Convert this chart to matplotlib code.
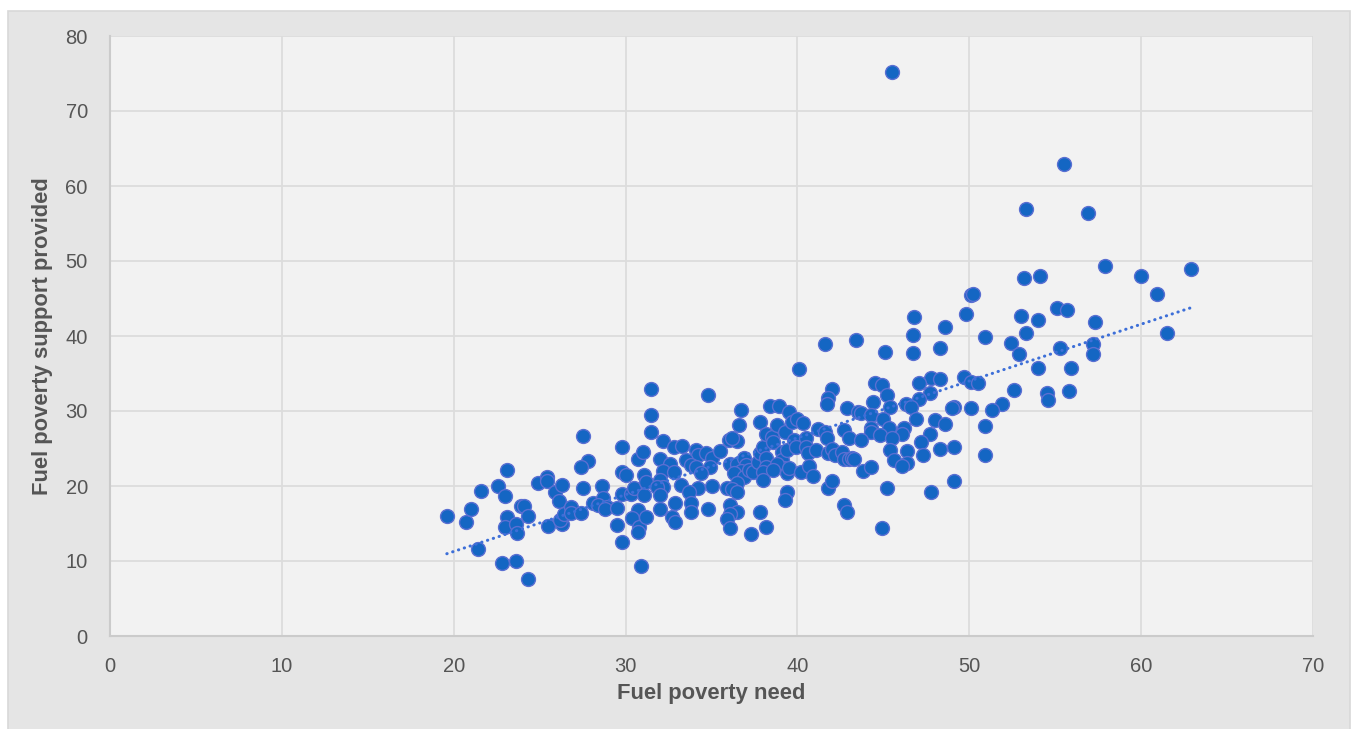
import numpy as np
import matplotlib
matplotlib.use('Agg')
from matplotlib import pyplot as plt
from matplotlib.patches import Rectangle

# fuel poverty need (x) vs support provided (y), one point per area
need = [
    19.6, 20.7, 21.0, 21.6, 21.4, 22.6, 23.0, 23.1, 22.8, 23.6, 24.3, 23.1, 23.0, 23.6,
    23.7, 23.9, 24.1, 24.3, 24.9, 25.4, 25.4, 25.5, 25.9, 26.1, 26.3, 26.3, 26.2, 26.4,
    26.8, 26.8, 27.4, 27.5, 27.8, 27.4, 27.5, 28.1, 28.6, 28.7, 28.4, 28.9, 28.8, 29.5,
    29.5, 29.8, 29.8, 29.8, 30.0, 29.8, 30.3, 30.5, 30.7, 31.0, 31.1, 30.7, 30.4, 30.8,
    30.7, 30.9, 31.1, 31.2, 31.5, 31.5, 31.5,
    34.8, 32.2, 32.0, 32.8, 33.3, 34.1, 34.2, 34.7, 35.0, 35.5, 32.6, 33.5, 33.8, 34.1,
    34.9, 34.4, 31.2, 32.2, 32.0, 32.8, 32.2, 31.8, 32.0, 33.2, 34.2, 35.0, 33.7, 32.9,
    33.8, 33.8, 32.0, 32.7, 32.9, 34.8,
    36.0, 36.5, 36.6, 36.7, 36.2, 36.1, 36.5, 36.9, 37.0, 36.7, 36.3, 36.9, 37.2, 36.5,
    35.9, 36.2, 36.5, 36.1, 36.5, 36.1, 35.9, 36.1, 37.3, 37.8, 38.2, 37.4, 37.7, 37.8,
    38.0, 38.2, 38.2, 38.0, 38.0, 37.8, 38.4, 38.9, 38.2, 38.5, 38.6, 38.8, 39.3, 39.5,
    39.7, 40.0, 40.3, 39.1, 39.1, 39.4, 39.2, 38.8, 38.6, 39.4, 39.5, 39.8, 39.9, 39.4,
    39.3, 40.2, 40.5, 40.5, 40.6, 40.7, 40.9, 41.1, 41.2, 41.6, 41.7, 41.8, 42.0, 41.8,
    42.0, 42.0, 41.8, 41.7, 42.9, 42.7, 43.0, 42.2, 42.6, 42.7, 43.0, 42.7, 42.9, 43.5,
    40.1, 41.6, 43.4,
    46.8, 46.7, 46.7, 48.6, 49.8, 48.3, 45.1, 50.9, 50.1, 53.0, 54.0, 55.1, 55.7, 53.3,
    52.4, 52.9, 55.3, 54.0, 55.9, 52.6, 54.5, 54.6, 55.8, 49.7, 50.1, 50.5, 51.9, 51.3,
    50.1, 50.9, 50.9, 49.1, 49.0, 49.1, 47.8, 48.3, 47.1, 47.7, 47.1, 44.5, 44.9, 45.2,
    44.4, 46.3, 46.6, 45.4, 43.7, 44.3, 45.0, 46.9, 45.3, 44.3, 44.3, 44.8, 46.2, 46.1,
    45.5, 43.7, 48.0, 48.6, 47.7, 47.2, 45.4, 46.4, 43.2, 43.3, 45.6, 46.4, 46.1, 47.3,
    48.3, 49.1, 43.8, 44.3, 45.2, 47.8, 44.9,
    45.5, 55.5, 53.3, 53.2, 54.1, 50.2,
    56.9, 57.9, 60.0, 62.9, 60.9, 57.3, 61.5, 57.2, 57.2,
]
support = [
    16.0, 15.2, 17.0, 19.4, 11.6, 20.0, 18.7, 22.1, 9.8, 10.0, 7.6, 15.9, 14.5, 15.0,
    13.7, 17.3, 17.3, 16.0, 20.4, 21.2, 20.7, 14.7, 19.2, 18.0, 20.2, 14.9, 15.5, 16.3,
    17.2, 16.4, 16.4, 26.7, 23.4, 22.6, 19.8, 17.8, 20.0, 18.4, 17.5, 17.2, 17.0, 17.1,
    14.8, 12.5, 25.2, 21.9, 21.5, 19.0, 19.0, 19.8, 23.6, 24.5, 18.8, 16.8, 15.7, 14.6,
    13.9, 9.4, 21.5, 15.9, 32.9, 29.5, 27.2,
    32.2, 26.0, 23.6, 25.2, 25.3, 24.8, 24.1, 24.4, 23.8, 24.7, 23.0, 23.5, 22.8, 22.6,
    22.5, 21.7, 20.6, 22.0, 20.8, 21.9, 19.9, 19.9, 18.8, 20.1, 19.7, 20.0, 19.2, 17.8,
    17.7, 16.6, 17.0, 15.9, 15.2, 17.0,
    26.2, 26.0, 28.1, 30.2, 26.4, 22.9, 22.9, 23.8, 22.8, 22.0, 21.7, 21.2, 22.1, 20.4,
    19.7, 19.6, 19.2, 17.5, 16.6, 16.3, 15.6, 14.4, 13.6, 16.6, 14.5, 21.9, 23.2, 24.4,
    25.2, 23.7, 22.6, 21.9, 20.8, 28.5, 30.7, 30.7, 27.0, 26.6, 25.9, 28.1, 27.2, 29.9,
    28.6, 29.0, 28.4, 24.6, 23.5, 24.8, 22.4, 23.0, 22.1, 21.7, 22.4, 26.1, 25.2, 19.2,
    18.1, 21.9, 26.4, 25.2, 24.4, 22.7, 21.3, 24.8, 27.6, 27.2, 26.4, 24.4, 25.0, 19.7,
    20.7, 33.0, 31.8, 30.9, 30.4, 27.5, 26.4, 24.1, 24.6, 23.6, 23.6, 17.5, 16.6, 29.9,
    35.6, 39.0, 39.5,
    42.5, 40.1, 37.8, 41.2, 42.9, 38.4, 37.9, 39.9, 45.5, 42.7, 42.1, 43.7, 43.5, 40.4,
    39.1, 37.6, 38.4, 35.7, 35.7, 32.8, 32.4, 31.5, 32.7, 34.5, 33.9, 33.7, 30.9, 30.1,
    30.4, 28.0, 24.2, 30.5, 30.4, 20.7, 34.4, 34.3, 33.7, 32.4, 31.6, 33.8, 33.5, 32.2,
    31.2, 31.0, 30.5, 30.5, 29.8, 29.5, 29.0, 29.0, 27.8, 27.8, 27.2, 26.8, 27.7, 27.0,
    26.4, 26.2, 28.8, 28.3, 26.9, 25.9, 24.8, 24.7, 23.8, 23.6, 23.5, 23.1, 22.7, 24.1,
    25.0, 25.2, 22.0, 22.6, 19.8, 19.2, 14.4,
    75.2, 63.0, 56.9, 47.8, 48.0, 45.6,
    56.4, 49.3, 48.0, 48.9, 45.6, 41.9, 40.4, 39.0, 37.6,
]

x_ticks = [0, 10, 20, 30, 40, 50, 60, 70]
y_ticks = [0, 10, 20, 30, 40, 50, 60, 70, 80]

plt.rcParams['font.family'] = ['Liberation Sans', 'DejaVu Sans']

fig = plt.figure(figsize=(13.56, 7.29), dpi=100)
fig.patch.set_facecolor('white')

# grey card behind the chart
W, H = 1356, 729
card = Rectangle((8 / W, -0.01), (1350 - 8) / W, (H - 11) / H + 0.01,
                 transform=fig.transFigure, facecolor='#e5e5e5',
                 edgecolor='#d8d8d8', linewidth=1.2, zorder=-10)
fig.add_artist(card)

ax = fig.add_axes([110 / W, 1 - 636 / H, (1313 - 110) / W, 600 / H])
ax.set_zorder(5)
ax.set_facecolor('#f2f2f2')

ax.scatter(need, support, s=100, color='#1466c3', edgecolors='#5a6fd2',
           linewidths=1.0, zorder=3)

# linear trendline
slope, icpt = np.polyfit(need, support, 1)
tx = np.array([min(need), max(need)])
ax.plot(tx, slope * tx + icpt, color='#3d6fd8', linewidth=2.2,
        linestyle=(0, (0.1, 1.9)), dash_capstyle='round', zorder=4)

ax.set_xlim(0, 70)
ax.set_ylim(0, 80)
ax.set_xticks(x_ticks)
ax.set_yticks(y_ticks)
ax.grid(True, color='#dcdcdc', linewidth=1.3, zorder=0)
ax.set_axisbelow(True)
for s in ['top', 'right']:
    ax.spines[s].set_visible(False)
for s in ['left', 'bottom']:
    ax.spines[s].set_color('#cbcbcb')
    ax.spines[s].set_linewidth(1.5)
ax.tick_params(length=0, labelsize=14.5, labelcolor='#555555')
ax.tick_params(axis='x', pad=15)
ax.tick_params(axis='y', pad=16)

ax.set_xlabel('Fuel poverty need', fontsize=15.8, fontweight='bold', color='#555555')
ax.set_ylabel('Fuel poverty support provided', fontsize=15.8, fontweight='bold', color='#555555')
ax.xaxis.set_label_coords(0.5, -0.095)
ax.xaxis.label.set_va('center')
ax.yaxis.set_label_coords(-0.0565, 0.5)
ax.yaxis.label.set_va('center')

fig.savefig('out.png', dpi=100, facecolor=fig.get_facecolor())
